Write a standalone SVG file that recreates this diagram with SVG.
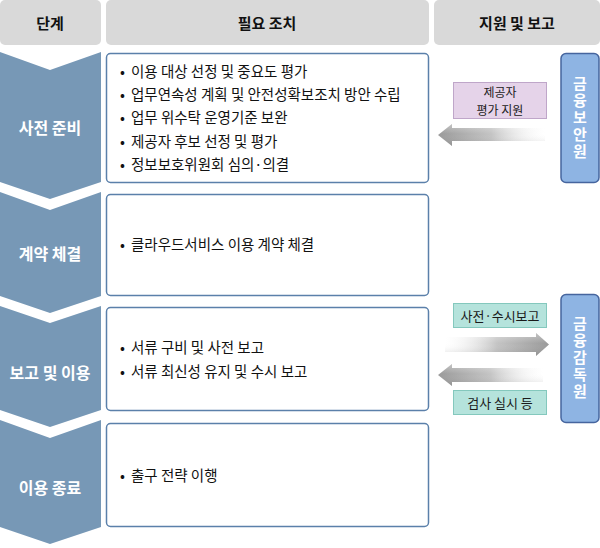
<svg xmlns="http://www.w3.org/2000/svg" width="600" height="548" viewBox="0 0 600 548">
<defs>
<style>
text{font-family:"Noto Sans CJK KR","Noto Sans",sans-serif;}
.hdr{fill:#D9D9D9;}
.ht{font-size:15px;font-weight:bold;fill:#111;text-anchor:middle;dominant-baseline:central;}
.chev{fill:#7798B6;}
.ct{font-size:16px;font-weight:bold;fill:#fff;text-anchor:middle;dominant-baseline:central;}
.box{fill:#fff;stroke:#5B80AA;stroke-width:1.5;}
.bt{font-size:14.5px;fill:#111;dominant-baseline:central;}
.org{fill:#8EB4E3;stroke:#46659E;stroke-width:1.5;}
.ot{font-size:15px;font-weight:bold;fill:#fff;writing-mode:vertical-rl;text-anchor:middle;letter-spacing:2px;}
.pur{fill:#E5D3E9;stroke:#BFA6C9;stroke-width:1;}
.teal{fill:#B5E3DC;stroke:#84C8BD;stroke-width:1;}
.lt{font-size:13px;fill:#1a1a1a;text-anchor:middle;dominant-baseline:central;}
.lt2{font-size:12px;fill:#1a1a1a;text-anchor:middle;dominant-baseline:central;}
</style>
<linearGradient id="gL" x1="0" y1="0" x2="1" y2="0">
<stop offset="0" stop-color="#9a9a9a"/>
<stop offset="0.5" stop-color="#c4c4c4"/>
<stop offset="1" stop-color="#ffffff" stop-opacity="0.2"/>
</linearGradient>
<linearGradient id="gR" x1="0" y1="0" x2="1" y2="0">
<stop offset="0" stop-color="#ffffff" stop-opacity="0.2"/>
<stop offset="0.5" stop-color="#c4c4c4"/>
<stop offset="1" stop-color="#9a9a9a"/>
</linearGradient>
<linearGradient id="gV" x1="0" y1="0" x2="0" y2="1">
<stop offset="0" stop-color="#ffffff" stop-opacity="0.35"/>
<stop offset="0.45" stop-color="#ffffff" stop-opacity="0"/>
<stop offset="1" stop-color="#000000" stop-opacity="0.12"/>
</linearGradient>
</defs>

<g id="header">
<rect class="hdr" x="0" y="0" width="101" height="45" rx="5"/>
<rect class="hdr" x="106" y="0" width="323" height="45" rx="5"/>
<rect class="hdr" x="434" y="0" width="166" height="45" rx="5"/>
<text class="ht" x="50" y="22">단계</text>
<text class="ht" x="267" y="22">필요 조치</text>
<text class="ht" x="517" y="22">지원 및 보고</text>
</g>

<g id="stage1">
<polygon class="chev" points="0,52 50,70 101,52 101,182 50,199 0,182"/>
<text class="ct" x="50" y="127">사전 준비</text>
</g>
<g id="stage2">
<polygon class="chev" points="0,192 50,210 101,192 101,296 50,313 0,296"/>
<text class="ct" x="50" y="253">계약 체결</text>
</g>
<g id="stage3">
<polygon class="chev" points="0,306 50,323 101,306 101,410 50,427 0,410"/>
<text class="ct" x="50" y="372">보고 및 이용</text>
</g>
<g id="stage4">
<polygon class="chev" points="0,420 50,438 101,420 101,527 50,544 0,527"/>
<text class="ct" x="50" y="487">이용 종료</text>
</g>

<g id="action1">
<rect class="box" x="106.5" y="53.5" width="322" height="129" rx="4"/>
<text class="bt"><tspan x="120" y="70">•</tspan><tspan x="131" y="70">이용 대상 선정 및 중요도 평가</tspan></text>
<text class="bt"><tspan x="120" y="93">•</tspan><tspan x="131" y="93">업무연속성 계획 및 안전성확보조치 방안 수립</tspan></text>
<text class="bt"><tspan x="120" y="116">•</tspan><tspan x="131" y="116">업무 위수탁 운영기준 보완</tspan></text>
<text class="bt"><tspan x="120" y="140">•</tspan><tspan x="131" y="140">제공자 후보 선정 및 평가</tspan></text>
<text class="bt"><tspan x="120" y="163">•</tspan><tspan x="131" y="163">정보보호위원회 심의·의결</tspan></text>
</g>
<g id="action2">
<rect class="box" x="106.5" y="194.5" width="322" height="101" rx="4"/>
<text class="bt"><tspan x="120" y="243">•</tspan><tspan x="131" y="243">클라우드서비스 이용 계약 체결</tspan></text>
</g>
<g id="action3">
<rect class="box" x="106.5" y="307.5" width="322" height="103" rx="4"/>
<text class="bt"><tspan x="120" y="346">•</tspan><tspan x="131" y="346">서류 구비 및 사전 보고</tspan></text>
<text class="bt"><tspan x="120" y="370">•</tspan><tspan x="131" y="370">서류 최신성 유지 및 수시 보고</tspan></text>
</g>
<g id="action4">
<rect class="box" x="106.5" y="423.5" width="322" height="103" rx="4"/>
<text class="bt"><tspan x="120" y="474">•</tspan><tspan x="131" y="474">출구 전략 이행</tspan></text>
</g>

<g id="org-fsec">
<rect class="org" x="561" y="53.5" width="38" height="129" rx="5"/>
<text class="ot" x="580" y="118">금융보안원</text>
</g>
<g id="org-fss">
<rect class="org" x="561" y="294.5" width="38" height="128" rx="5"/>
<text class="ot" x="580" y="358">금융감독원</text>
</g>

<g id="label-eval">
<rect class="pur" x="453.5" y="82.5" width="93" height="36"/>
<text class="lt2" x="500" y="91.5">제공자</text>
<text class="lt2" x="500" y="109.5">평가 지원</text>
</g>
<g id="label-report">
<rect class="teal" x="453.5" y="303.5" width="93" height="24"/>
<text class="lt" x="500" y="315">사전·수시보고</text>
</g>
<g id="label-inspect">
<rect class="teal" x="453.5" y="390.5" width="93" height="24"/>
<text class="lt" x="500" y="402">검사 실시 등</text>
</g>

<g id="connectors">
<polygon fill="url(#gL)" points="438,135 452,124 452,128 545,128 545,141 452,141 452,146"/>
<polygon fill="url(#gV)" points="438,135 452,124 452,128 545,128 545,141 452,141 452,146"/>
<polygon fill="url(#gR)" points="549,344.5 536,333 536,337 445,337 445,352 536,352 536,356"/>
<polygon fill="url(#gV)" points="549,344.5 536,333 536,337 445,337 445,352 536,352 536,356"/>
<polygon fill="url(#gL)" points="438,375 452,364 452,368 543,368 543,382 452,382 452,386"/>
<polygon fill="url(#gV)" points="438,375 452,364 452,368 543,368 543,382 452,382 452,386"/>
</g>
</svg>
